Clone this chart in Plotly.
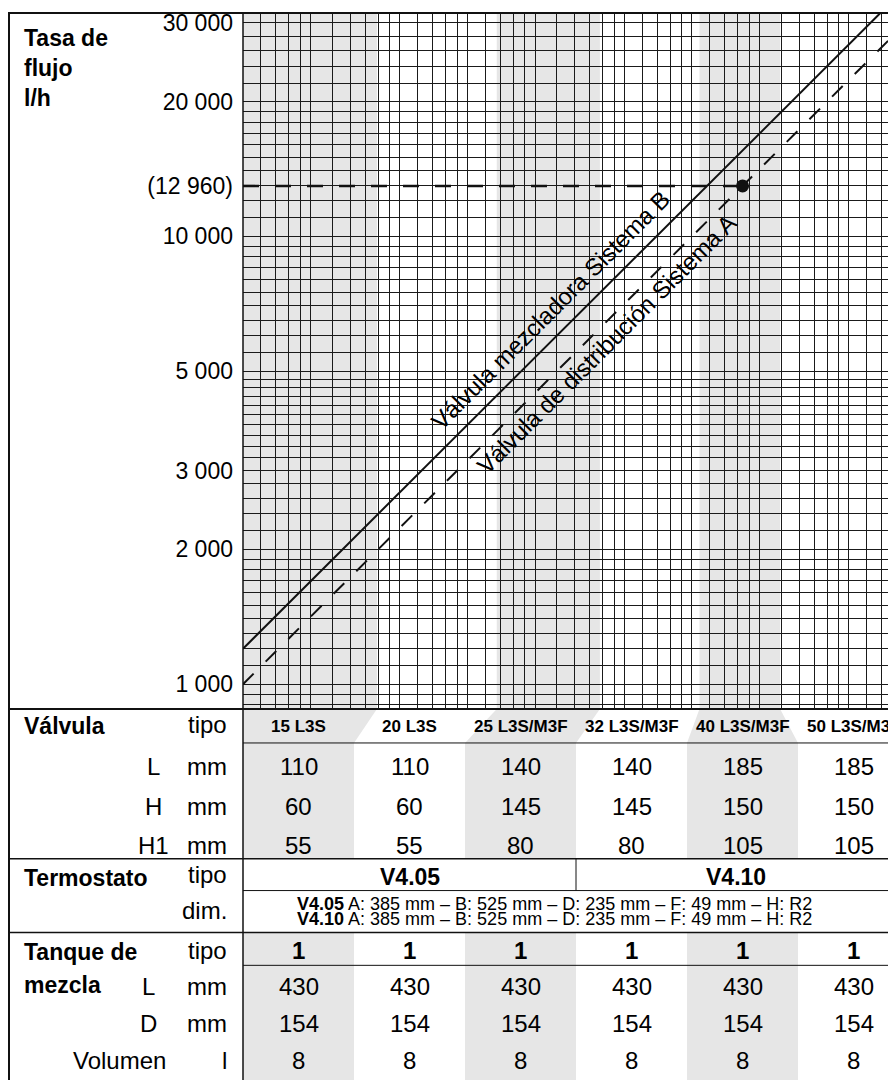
import math
import plotly.graph_objects as go

W, H = 896, 1080
OFF = 8  # page body margin: screen = figure + 8 px
FONT = "Liberation Sans, Arial, Helvetica, sans-serif"
GRAY = "#e6e6e6"
INK = "#111111"

# ---------------- chart data ----------------
flow_ticks = [1000, 2000, 3000, 5000, 10000, 12960, 20000, 30000]
flow_tick_text = ["1 000", "2 000", "3 000", "5 000", "10 000", "(12 960)", "20 000", "30 000"]

dp_range = [1.0, 880.0]          # pressure-loss axis (log, unlabeled)
flow_range = [880.0, 31540.0]    # flow rate l/h (log)

# Válvula de distribución – Sistema A (dashed)
sysA_dp = [1.0, 880.0]
sysA_flow = [1000, 29665]
# Válvula mezcladora – Sistema B (solid)
sysB_dp = [1.0, 700.0]
sysB_flow = [1200, 31750]

# design point and its reference line
design_dp = [168.0]
design_flow = [12960]
ref_dp = [1.0, 168.0]
ref_flow = [12960, 12960]

# shaded valve bands on the chart
band_lo = [0.5, 13.5, 108.0]
band_hi = [3.95, 38.9, 247.0]

# grid mantissas
x_mant = [1, 1.2, 1.4, 1.6, 1.8, 2, 2.5, 3, 3.5, 4, 4.5, 5, 6, 7, 8, 9]
y_mant = [1, 1.1, 1.2, 1.3, 1.4, 1.5, 1.6, 1.7, 1.8, 1.9, 2, 2.2, 2.4, 2.6, 2.8, 3,
          3.2, 3.4, 3.6, 3.8, 4, 4.2, 4.4, 4.6, 4.8, 5, 5.5, 6, 6.5, 7, 7.5, 8, 8.5, 9, 9.5]

# ---------------- table data ----------------
valve_types = ["15 L3S", "20 L3S", "25 L3S/M3F", "32 L3S/M3F", "40 L3S/M3F", "50 L3S/M3F"]
valve_L = [110, 110, 140, 140, 185, 185]
valve_H = [60, 60, 145, 145, 150, 150]
valve_H1 = [55, 55, 80, 80, 105, 105]
thermo_types = ["V4.05", "V4.10"]
thermo_dims = ["A: 385 mm – B: 525 mm – D: 235 mm – F: 49 mm – H: R2",
               "A: 385 mm – B: 525 mm – D: 235 mm – F: 49 mm – H: R2"]
tank_type = [1, 1, 1, 1, 1, 1]
tank_L = [430, 430, 430, 430, 430, 430]
tank_D = [154, 154, 154, 154, 154, 154]
tank_vol = [8, 8, 8, 8, 8, 8]

# ---------------- layout geometry (screen pixels) ----------------
FRAME_L, FRAME_T = 9, 10
CHART_L, CHART_T, CHART_B = 243, 10, 708
COL_W = 111


def px(x):
    return (x - OFF) / W


def py(y):
    return 1 - (y - OFF) / H


x_dom = [px(CHART_L), 1.0]
y_dom = [py(CHART_B), py(CHART_T)]
lx0, lx1 = math.log10(dp_range[0]), math.log10(dp_range[1])


def x_to_paper(v):
    v = max(v, dp_range[0])
    return x_dom[0] + (math.log10(v) - lx0) / (lx1 - lx0) * (x_dom[1] - x_dom[0])


x_grid = [m * d for d in (1, 10, 100) for m in x_mant if m * d <= dp_range[1]]
y_grid = [900, 950] + [m * d for d in (1000, 10000) for m in y_mant if m * d <= flow_range[1]]

fig = go.Figure()

fig.add_trace(go.Scatter(x=ref_dp, y=ref_flow, mode="lines",
                         line=dict(color=INK, width=2.6, dash="16px,16px"),
                         hoverinfo="skip", showlegend=False))
fig.add_trace(go.Scatter(x=sysB_dp, y=sysB_flow, mode="lines",
                         line=dict(color=INK, width=2),
                         hoverinfo="skip", showlegend=False))
fig.add_trace(go.Scatter(x=sysA_dp, y=sysA_flow, mode="lines",
                         line=dict(color=INK, width=2, dash="15px,17px"),
                         hoverinfo="skip", showlegend=False))
fig.add_trace(go.Scatter(x=design_dp, y=design_flow, mode="markers",
                         marker=dict(color=INK, size=13),
                         hoverinfo="skip", showlegend=False))
fig.add_trace(go.Scatter(x=[dp_range[0]], y=[flow_ticks[0]], yaxis="y2", mode="markers",
                         marker=dict(opacity=0), hoverinfo="skip", showlegend=False))

shapes = []
for lo, hi in zip(band_lo, band_hi):
    shapes.append(dict(type="rect", xref="x", yref="y domain", x0=lo, x1=hi, y0=0, y1=1,
                       fillcolor=GRAY, line=dict(width=0), layer="below"))

shaded_cols = [0, 2, 4]
for (lo, hi), c in zip(zip(band_lo, band_hi), shaded_cols):
    cl = px(CHART_L + c * COL_W)
    cr = px(CHART_L + (c + 1) * COL_W)
    tl, tr = x_to_paper(lo), x_to_paper(hi)
    y_top, y_bot = py(CHART_B), py(742)
    shapes.append(dict(type="path", xref="paper", yref="paper",
                       path=f"M {tl} {y_top} L {tr} {y_top} L {cr} {y_bot} L {cl} {y_bot} Z",
                       fillcolor=GRAY, line=dict(width=0), layer="below"))
    for a, b in [(742, 858), (932, 1090)]:
        shapes.append(dict(type="rect", xref="paper", yref="paper", x0=cl, x1=cr,
                           y0=py(b), y1=py(a), fillcolor=GRAY, line=dict(width=0), layer="below"))


def hline(y, x0, x1, w):
    shapes.append(dict(type="line", xref="paper", yref="paper", x0=px(x0), x1=px(x1),
                       y0=py(y), y1=py(y), line=dict(color=INK, width=w)))


def vline(x, y0, y1, w):
    shapes.append(dict(type="line", xref="paper", yref="paper", x0=px(x), x1=px(x),
                       y0=py(y0), y1=py(y1), line=dict(color=INK, width=w)))


hline(FRAME_T, FRAME_L - 1, W + OFF, 2)
vline(FRAME_L, FRAME_T, H + OFF, 2)
vline(CHART_L, FRAME_T, H + OFF, 1.5)
hline(CHART_B, FRAME_L, W + OFF, 2)
hline(742, CHART_L, W + OFF, 1)
hline(858, FRAME_L, W + OFF, 1.5)
hline(890, CHART_L, W + OFF, 1)
vline(576, 858, 890, 1)
hline(932, FRAME_L, W + OFF, 1.5)
hline(965, CHART_L, W + OFF, 1)

ann = []


def text(x, y, s, size=24, anchor="center", bold=False):
    if bold:
        s = f"<b>{s}</b>"
    ann.append(dict(x=px(x), y=py(y), xref="paper", yref="paper", text=s, showarrow=False,
                    xanchor=anchor, yanchor="middle", font=dict(family=FONT, size=size, color="black")))


ann.append(dict(x=px(22), y=py(20), xref="paper", yref="paper",
                text="<b>Tasa de<br>flujo<br>l/h</b>", showarrow=False, align="left",
                xanchor="left", yanchor="top", font=dict(family=FONT, size=23, color="black")))

lab_B_dp = 27.5
lab_A_dp = 37.0
ann.append(dict(x=math.log10(lab_B_dp), y=math.log10(sysB_flow[0] * math.sqrt(lab_B_dp)),
                xref="x", yref="y", text="Válvula mezcladora Sistema B", showarrow=False,
                textangle=-45, xshift=-16, yshift=16, font=dict(family=FONT, size=24, color="black")))
ann.append(dict(x=math.log10(lab_A_dp), y=math.log10(sysA_flow[0] * math.sqrt(lab_A_dp)),
                xref="x", yref="y", text="Válvula de distribución Sistema A", showarrow=False,
                textangle=-45, xshift=11, yshift=-11, font=dict(family=FONT, size=24, color="black")))

text(22, 725, "Válvula", 23, "left", True)
text(229, 723, "tipo", anchor="right")
for y, lab in [(766, "L"), (806, "H"), (845, "H1")]:
    text(153, y, lab)
    text(229, y, "mm", anchor="right")
text(22, 877, "Termostato", 23, "left", True)
text(229, 874, "tipo", anchor="right")
text(229, 910, "dim.", anchor="right")
text(22, 952, "Tanque de", 23, "left", True)
text(22, 985, "mezcla", 23, "left", True)
text(229, 950, "tipo", anchor="right")
text(148, 986, "L")
text(229, 986, "mm", anchor="right")
text(148, 1023, "D")
text(229, 1023, "mm", anchor="right")
text(168, 1060, "Volumen", anchor="right")
text(224, 1060, "l")

for i in range(6):
    cx = CHART_L + COL_W * (i + 0.5)
    text(cx, 725, valve_types[i], 17, bold=True)
    text(cx, 766, str(valve_L[i]))
    text(cx, 806, str(valve_H[i]))
    text(cx, 845, str(valve_H1[i]))
    text(cx, 950, str(tank_type[i]), bold=True)
    text(cx, 986, str(tank_L[i]))
    text(cx, 1023, str(tank_D[i]))
    text(cx, 1060, str(tank_vol[i]))

text((CHART_L + 576) / 2, 876, thermo_types[0], 23, bold=True)
text((576 + 896) / 2, 876, thermo_types[1], 23, bold=True)
text(554, 903, f"<b>{thermo_types[0]}</b> {thermo_dims[0]}", 18)
text(554, 919, f"<b>{thermo_types[1]}</b> {thermo_dims[1]}", 18)

fig.update_layout(
    width=W, height=H, margin=dict(l=0, r=0, t=0, b=0),
    paper_bgcolor="white", plot_bgcolor="white",
    showlegend=False, shapes=shapes, annotations=ann,
    xaxis=dict(type="log", domain=x_dom, range=[lx0, lx1], tickmode="array", tickvals=x_grid,
               showticklabels=False, ticks="", showgrid=True, gridcolor="#1a1a1a", gridwidth=1,
               zeroline=False, showline=False, fixedrange=True),
    yaxis=dict(type="log", domain=y_dom, range=[math.log10(flow_range[0]), math.log10(flow_range[1])],
               tickmode="array", tickvals=flow_ticks, ticktext=flow_tick_text, showgrid=False,
               ticks="", ticklabelstandoff=9, ticklabeloverflow="allow", zeroline=False, showline=False,
               tickfont=dict(family=FONT, size=23, color="black"), fixedrange=True),
    yaxis2=dict(type="log", overlaying="y", anchor="x", side="left",
                range=[math.log10(flow_range[0]), math.log10(flow_range[1])],
                tickmode="array", tickvals=y_grid, showticklabels=False, ticks="",
                showgrid=True, gridcolor="#1a1a1a", gridwidth=1, zeroline=False, showline=False,
                fixedrange=True),
)

fig.write_html("out.html")
